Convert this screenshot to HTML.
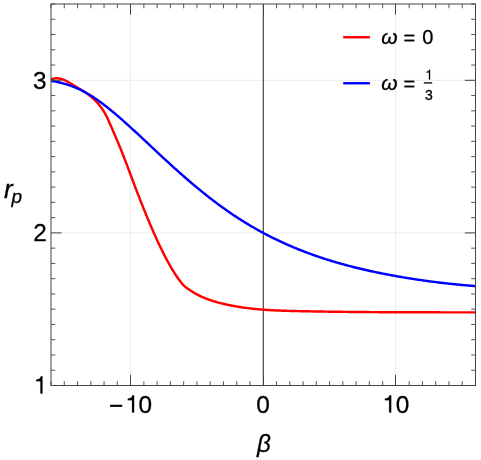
<!DOCTYPE html>
<html><head><meta charset="utf-8"><title>plot</title>
<style>
html,body{margin:0;padding:0;background:#fff;}
body{width:481px;height:460px;overflow:hidden;font-family:"Liberation Sans",sans-serif;}
svg{display:block;will-change:transform}
text{font-family:"Liberation Sans",sans-serif;fill:#000;stroke:#000;stroke-width:0.3px}
</style></head><body>
<svg width="481" height="460" viewBox="0 0 481 460">
<rect width="481" height="460" fill="#fff"/>
<g stroke="#ebebeb" stroke-width="1" fill="none">
<line x1="130.50" x2="130.50" y1="4.0" y2="385.5"/>
<line x1="395.50" x2="395.50" y1="4.0" y2="385.5"/>
<line y1="232.90" y2="232.90" x1="51.0" x2="475.5"/>
<line y1="80.30" y2="80.30" x1="51.0" x2="475.5"/>
</g>
<line x1="263.35" x2="263.35" y1="4.0" y2="385.5" stroke="#505050" stroke-width="1.25"/>
<path d="M51.00,79.60 L51.44,79.40 L51.88,79.21 L52.33,79.04 L52.77,78.89 L53.21,78.76 L53.65,78.64 L54.10,78.54 L54.54,78.45 L54.98,78.39 L55.42,78.34 L55.87,78.30 L56.31,78.28 L56.75,78.27 L57.19,78.28 L57.63,78.30 L58.08,78.33 L58.52,78.38 L58.96,78.44 L59.40,78.51 L59.85,78.60 L60.29,78.69 L60.73,78.80 L61.17,78.92 L61.62,79.05 L62.06,79.19 L62.50,79.34 L62.94,79.50 L63.38,79.66 L63.83,79.84 L64.27,80.02 L64.71,80.22 L65.15,80.42 L65.60,80.63 L66.04,80.84 L66.48,81.06 L66.92,81.29 L67.37,81.52 L67.81,81.76 L68.25,82.01 L68.69,82.25 L69.13,82.51 L69.58,82.76 L70.02,83.02 L70.46,83.29 L70.90,83.56 L71.35,83.83 L71.79,84.10 L72.23,84.37 L72.67,84.65 L73.12,84.92 L73.56,85.20 L74.00,85.48 L74.44,85.75 L74.88,86.03 L75.33,86.31 L75.77,86.58 L76.21,86.86 L76.65,87.13 L77.10,87.40 L77.54,87.67 L77.98,87.94 L78.42,88.21 L78.87,88.48 L79.31,88.75 L79.75,89.02 L80.19,89.28 L80.63,89.55 L81.08,89.83 L81.52,90.10 L81.96,90.37 L82.40,90.65 L82.85,90.92 L83.29,91.20 L83.73,91.49 L84.17,91.77 L84.62,92.06 L85.06,92.35 L85.50,92.64 L85.94,92.94 L86.38,93.24 L86.83,93.55 L87.27,93.86 L87.71,94.17 L88.15,94.49 L88.60,94.82 L89.04,95.15 L89.48,95.48 L89.92,95.82 L90.37,96.17 L90.81,96.53 L91.25,96.89 L91.69,97.25 L92.13,97.63 L92.58,98.01 L93.02,98.40 L93.46,98.80 L93.90,99.20 L94.35,99.62 L94.79,100.04 L95.23,100.47 L95.67,100.92 L96.12,101.37 L96.56,101.84 L97.00,102.31 L97.44,102.80 L97.88,103.30 L98.33,103.82 L98.77,104.35 L99.21,104.89 L99.65,105.45 L100.10,106.02 L100.54,106.61 L100.98,107.22 L101.42,107.84 L101.87,108.48 L102.31,109.13 L102.75,109.81 L103.19,110.50 L103.63,111.21 L104.08,111.94 L104.52,112.69 L104.96,113.47 L105.40,114.26 L105.85,115.07 L106.29,115.91 L106.73,116.77 L107.17,117.65 L107.62,118.55 L108.06,119.48 L108.50,120.43 L108.94,121.40 L109.38,122.38 L109.83,123.38 L110.27,124.39 L110.71,125.42 L111.15,126.45 L111.60,127.49 L112.04,128.54 L112.48,129.58 L112.92,130.64 L113.37,131.68 L113.81,132.73 L114.25,133.77 L114.69,134.81 L115.13,135.85 L115.58,136.88 L116.02,137.90 L116.46,138.93 L116.90,139.96 L117.35,140.99 L117.79,142.03 L118.23,143.07 L118.67,144.12 L119.12,145.18 L119.56,146.25 L120.00,147.32 L120.44,148.41 L120.88,149.50 L121.33,150.60 L121.77,151.70 L122.21,152.82 L122.65,153.93 L123.10,155.06 L123.54,156.19 L123.98,157.33 L124.42,158.47 L124.87,159.62 L125.31,160.77 L125.75,161.92 L126.19,163.08 L126.63,164.24 L127.08,165.41 L127.52,166.58 L127.96,167.75 L128.40,168.92 L128.85,170.10 L129.29,171.27 L129.73,172.45 L130.17,173.63 L130.62,174.81 L131.06,175.99 L131.50,177.17 L131.94,178.35 L132.38,179.52 L132.83,180.70 L133.27,181.88 L133.71,183.05 L134.15,184.22 L134.60,185.39 L135.04,186.56 L135.48,187.72 L135.92,188.88 L136.37,190.04 L136.81,191.19 L137.25,192.34 L137.69,193.49 L138.13,194.64 L138.58,195.78 L139.02,196.92 L139.46,198.06 L139.90,199.19 L140.35,200.32 L140.79,201.44 L141.23,202.56 L141.67,203.68 L142.12,204.80 L142.56,205.91 L143.00,207.02 L143.44,208.12 L143.88,209.22 L144.33,210.32 L144.77,211.41 L145.21,212.50 L145.65,213.59 L146.10,214.67 L146.54,215.74 L146.98,216.82 L147.42,217.88 L147.87,218.95 L148.31,220.01 L148.75,221.06 L149.19,222.12 L149.63,223.16 L150.08,224.21 L150.52,225.24 L150.96,226.28 L151.40,227.31 L151.85,228.33 L152.29,229.35 L152.73,230.36 L153.17,231.37 L153.62,232.38 L154.06,233.38 L154.50,234.37 L154.94,235.36 L155.38,236.35 L155.83,237.33 L156.27,238.30 L156.71,239.27 L157.15,240.23 L157.60,241.19 L158.04,242.14 L158.48,243.09 L158.92,244.03 L159.37,244.97 L159.81,245.90 L160.25,246.82 L160.69,247.74 L161.13,248.65 L161.58,249.56 L162.02,250.45 L162.46,251.35 L162.90,252.23 L163.35,253.12 L163.79,253.99 L164.23,254.86 L164.67,255.72 L165.12,256.57 L165.56,257.42 L166.00,258.26 L166.44,259.10 L166.88,259.92 L167.33,260.74 L167.77,261.56 L168.21,262.36 L168.65,263.16 L169.10,263.95 L169.54,264.74 L169.98,265.52 L170.42,266.29 L170.87,267.05 L171.31,267.80 L171.75,268.55 L172.19,269.29 L172.63,270.02 L173.08,270.75 L173.52,271.46 L173.96,272.17 L174.40,272.87 L174.85,273.56 L175.29,274.25 L175.73,274.92 L176.17,275.59 L176.62,276.25 L177.06,276.90 L177.50,277.55 L177.94,278.18 L178.38,278.81 L178.83,279.42 L179.27,280.03 L179.71,280.63 L180.15,281.22 L180.60,281.80 L181.04,282.37 L181.48,282.94 L181.92,283.49 L182.37,284.04 L182.81,284.57 L183.25,285.10 L184.23,285.91 L185.20,286.70 L186.18,287.46 L187.16,288.20 L188.14,288.91 L189.11,289.61 L190.09,290.28 L191.07,290.93 L192.05,291.55 L193.02,292.16 L194.00,292.75 L194.98,293.32 L195.96,293.87 L196.93,294.41 L197.91,294.92 L198.89,295.42 L199.87,295.90 L200.84,296.36 L201.82,296.81 L202.80,297.25 L203.78,297.67 L204.75,298.07 L205.73,298.47 L206.71,298.85 L207.69,299.21 L208.66,299.57 L209.64,299.91 L210.62,300.24 L211.60,300.56 L212.57,300.88 L213.55,301.18 L214.53,301.47 L215.51,301.76 L216.48,302.04 L217.46,302.31 L218.44,302.57 L219.41,302.83 L220.39,303.08 L221.37,303.32 L222.35,303.56 L223.32,303.80 L224.30,304.03 L225.28,304.25 L226.26,304.47 L227.23,304.69 L228.21,304.90 L229.19,305.10 L230.17,305.30 L231.14,305.50 L232.12,305.69 L233.10,305.87 L234.08,306.06 L235.05,306.23 L236.03,306.41 L237.01,306.57 L237.99,306.74 L238.96,306.90 L239.94,307.05 L240.92,307.20 L241.90,307.35 L242.87,307.49 L243.85,307.63 L244.83,307.77 L245.81,307.90 L246.78,308.03 L247.76,308.15 L248.74,308.27 L249.71,308.39 L250.69,308.50 L251.67,308.61 L252.65,308.72 L253.62,308.82 L254.60,308.92 L255.58,309.02 L256.56,309.11 L257.53,309.20 L258.51,309.29 L259.49,309.37 L260.47,309.45 L261.44,309.53 L262.42,309.61 L263.40,309.68 L264.38,309.76 L265.35,309.82 L266.33,309.89 L267.31,309.95 L268.29,310.02 L269.26,310.07 L270.24,310.13 L271.22,310.19 L272.20,310.24 L273.17,310.29 L274.15,310.34 L275.13,310.39 L276.11,310.43 L277.08,310.47 L278.06,310.52 L279.04,310.56 L280.02,310.59 L280.99,310.63 L281.97,310.67 L282.95,310.70 L283.92,310.73 L284.90,310.77 L285.88,310.80 L286.86,310.83 L287.83,310.85 L288.81,310.88 L289.79,310.91 L290.77,310.93 L291.74,310.96 L292.72,310.98 L293.70,311.01 L294.68,311.03 L295.65,311.05 L296.63,311.07 L297.61,311.10 L298.59,311.12 L299.56,311.14 L300.54,311.16 L301.52,311.18 L302.50,311.20 L303.47,311.22 L304.45,311.24 L305.43,311.26 L306.41,311.28 L307.38,311.30 L308.36,311.32 L309.34,311.33 L310.32,311.35 L311.29,311.37 L312.27,311.39 L313.25,311.41 L314.22,311.42 L315.20,311.44 L316.18,311.46 L317.16,311.47 L318.13,311.49 L319.11,311.51 L320.09,311.52 L321.07,311.54 L322.04,311.55 L323.02,311.57 L324.00,311.59 L324.98,311.60 L325.95,311.62 L326.93,311.63 L327.91,311.64 L328.89,311.66 L329.86,311.67 L330.84,311.69 L331.82,311.70 L332.80,311.71 L333.77,311.73 L334.75,311.74 L335.73,311.75 L336.71,311.77 L337.68,311.78 L338.66,311.79 L339.64,311.80 L340.62,311.82 L341.59,311.83 L342.57,311.84 L343.55,311.85 L344.53,311.86 L345.50,311.87 L346.48,311.88 L347.46,311.89 L348.43,311.91 L349.41,311.92 L350.39,311.93 L351.37,311.94 L352.34,311.95 L353.32,311.96 L354.30,311.97 L355.28,311.97 L356.25,311.98 L357.23,311.99 L358.21,312.00 L359.19,312.01 L360.16,312.02 L361.14,312.03 L362.12,312.04 L363.10,312.04 L364.07,312.05 L365.05,312.06 L366.03,312.07 L367.01,312.08 L367.98,312.08 L368.96,312.09 L369.94,312.10 L370.92,312.11 L371.89,312.11 L372.87,312.12 L373.85,312.13 L374.83,312.13 L375.80,312.14 L376.78,312.14 L377.76,312.15 L378.73,312.16 L379.71,312.16 L380.69,312.17 L381.67,312.17 L382.64,312.18 L383.62,312.19 L384.60,312.19 L385.58,312.20 L386.55,312.20 L387.53,312.21 L388.51,312.21 L389.49,312.22 L390.46,312.22 L391.44,312.22 L392.42,312.23 L393.40,312.23 L394.37,312.24 L395.35,312.24 L396.33,312.25 L397.31,312.25 L398.28,312.25 L399.26,312.26 L400.24,312.26 L401.22,312.26 L402.19,312.27 L403.17,312.27 L404.15,312.27 L405.13,312.28 L406.10,312.28 L407.08,312.28 L408.06,312.29 L409.04,312.29 L410.01,312.29 L410.99,312.29 L411.97,312.30 L412.94,312.30 L413.92,312.30 L414.90,312.30 L415.88,312.31 L416.85,312.31 L417.83,312.31 L418.81,312.31 L419.79,312.32 L420.76,312.32 L421.74,312.32 L422.72,312.32 L423.70,312.32 L424.67,312.32 L425.65,312.33 L426.63,312.33 L427.61,312.33 L428.58,312.33 L429.56,312.33 L430.54,312.33 L431.52,312.34 L432.49,312.34 L433.47,312.34 L434.45,312.34 L435.43,312.34 L436.40,312.34 L437.38,312.34 L438.36,312.34 L439.34,312.34 L440.31,312.35 L441.29,312.35 L442.27,312.35 L443.24,312.35 L444.22,312.35 L445.20,312.35 L446.18,312.35 L447.15,312.35 L448.13,312.35 L449.11,312.35 L450.09,312.35 L451.06,312.35 L452.04,312.36 L453.02,312.36 L454.00,312.36 L454.97,312.36 L455.95,312.36 L456.93,312.36 L457.91,312.36 L458.88,312.36 L459.86,312.36 L460.84,312.36 L461.82,312.36 L462.79,312.36 L463.77,312.36 L464.75,312.36 L465.73,312.36 L466.70,312.36 L467.68,312.36 L468.66,312.37 L469.64,312.37 L470.61,312.37 L471.59,312.37 L472.57,312.37 L473.55,312.37 L474.52,312.37 L475.50,312.37" fill="none" stroke="#ff0000" stroke-width="2.45" stroke-linejoin="round"/>
<path d="M51.00,80.83 L52.06,81.00 L53.13,81.18 L54.19,81.37 L55.26,81.57 L56.32,81.78 L57.38,82.00 L58.45,82.23 L59.51,82.47 L60.58,82.73 L61.64,82.99 L62.70,83.27 L63.77,83.56 L64.83,83.86 L65.89,84.18 L66.96,84.50 L68.02,84.84 L69.09,85.19 L70.15,85.56 L71.21,85.94 L72.28,86.33 L73.34,86.74 L74.41,87.16 L75.47,87.59 L76.53,88.04 L77.60,88.51 L78.66,88.98 L79.73,89.48 L80.79,89.99 L81.85,90.51 L82.92,91.05 L83.98,91.61 L85.05,92.18 L86.11,92.77 L87.17,93.37 L88.24,93.99 L89.30,94.62 L90.36,95.27 L91.43,95.94 L92.49,96.61 L93.56,97.31 L94.62,98.01 L95.68,98.73 L96.75,99.46 L97.81,100.21 L98.88,100.96 L99.94,101.73 L101.00,102.51 L102.07,103.30 L103.13,104.10 L104.20,104.91 L105.26,105.73 L106.32,106.56 L107.39,107.40 L108.45,108.25 L109.52,109.11 L110.58,109.98 L111.64,110.85 L112.71,111.73 L113.77,112.62 L114.83,113.52 L115.90,114.42 L116.96,115.33 L118.03,116.24 L119.09,117.16 L120.15,118.09 L121.22,119.02 L122.28,119.95 L123.35,120.89 L124.41,121.84 L125.47,122.79 L126.54,123.74 L127.60,124.69 L128.67,125.65 L129.73,126.62 L130.79,127.58 L131.86,128.55 L132.92,129.53 L133.98,130.50 L135.05,131.48 L136.11,132.46 L137.18,133.44 L138.24,134.43 L139.30,135.42 L140.37,136.41 L141.43,137.40 L142.50,138.39 L143.56,139.38 L144.62,140.38 L145.69,141.37 L146.75,142.37 L147.82,143.37 L148.88,144.37 L149.94,145.36 L151.01,146.36 L152.07,147.36 L153.14,148.36 L154.20,149.36 L155.26,150.35 L156.33,151.35 L157.39,152.35 L158.45,153.34 L159.52,154.34 L160.58,155.33 L161.65,156.32 L162.71,157.31 L163.77,158.30 L164.84,159.28 L165.90,160.27 L166.97,161.25 L168.03,162.22 L169.09,163.20 L170.16,164.17 L171.22,165.14 L172.29,166.11 L173.35,167.07 L174.41,168.04 L175.48,168.99 L176.54,169.95 L177.61,170.90 L178.67,171.85 L179.73,172.79 L180.80,173.73 L181.86,174.67 L182.92,175.60 L183.99,176.53 L185.05,177.46 L186.12,178.38 L187.18,179.30 L188.24,180.22 L189.31,181.13 L190.37,182.04 L191.44,182.94 L192.50,183.85 L193.56,184.74 L194.63,185.63 L195.69,186.52 L196.76,187.41 L197.82,188.29 L198.88,189.16 L199.95,190.04 L201.01,190.90 L202.08,191.77 L203.14,192.62 L204.20,193.48 L205.27,194.33 L206.33,195.17 L207.39,196.01 L208.46,196.85 L209.52,197.68 L210.59,198.51 L211.65,199.33 L212.71,200.15 L213.78,200.96 L214.84,201.77 L215.91,202.57 L216.97,203.37 L218.03,204.16 L219.10,204.95 L220.16,205.73 L221.23,206.51 L222.29,207.28 L223.35,208.04 L224.42,208.81 L225.48,209.56 L226.55,210.31 L227.61,211.06 L228.67,211.80 L229.74,212.53 L230.80,213.26 L231.86,213.98 L232.93,214.70 L233.99,215.41 L235.06,216.12 L236.12,216.82 L237.18,217.51 L238.25,218.20 L239.31,218.89 L240.38,219.57 L241.44,220.24 L242.50,220.91 L243.57,221.57 L244.63,222.23 L245.70,222.88 L246.76,223.53 L247.82,224.17 L248.89,224.81 L249.95,225.44 L251.02,226.07 L252.08,226.69 L253.14,227.31 L254.21,227.92 L255.27,228.53 L256.33,229.13 L257.40,229.72 L258.46,230.32 L259.53,230.90 L260.59,231.49 L261.65,232.06 L262.72,232.64 L263.78,233.21 L264.85,233.77 L265.91,234.33 L266.97,234.88 L268.04,235.43 L269.10,235.98 L270.17,236.52 L271.23,237.05 L272.29,237.59 L273.36,238.11 L274.42,238.64 L275.48,239.15 L276.55,239.67 L277.61,240.18 L278.68,240.68 L279.74,241.18 L280.80,241.68 L281.87,242.17 L282.93,242.66 L284.00,243.15 L285.06,243.62 L286.12,244.10 L287.19,244.57 L288.25,245.04 L289.32,245.50 L290.38,245.96 L291.44,246.42 L292.51,246.87 L293.57,247.32 L294.64,247.76 L295.70,248.20 L296.76,248.64 L297.83,249.07 L298.89,249.50 L299.95,249.92 L301.02,250.34 L302.08,250.76 L303.15,251.17 L304.21,251.58 L305.27,251.99 L306.34,252.39 L307.40,252.79 L308.47,253.19 L309.53,253.58 L310.59,253.97 L311.66,254.35 L312.72,254.74 L313.79,255.11 L314.85,255.49 L315.91,255.86 L316.98,256.23 L318.04,256.59 L319.11,256.96 L320.17,257.31 L321.23,257.67 L322.30,258.02 L323.36,258.37 L324.42,258.72 L325.49,259.06 L326.55,259.40 L327.62,259.73 L328.68,260.07 L329.74,260.40 L330.81,260.72 L331.87,261.05 L332.94,261.37 L334.00,261.69 L335.06,262.00 L336.13,262.32 L337.19,262.63 L338.26,262.93 L339.32,263.24 L340.38,263.54 L341.45,263.84 L342.51,264.13 L343.58,264.43 L344.64,264.72 L345.70,265.01 L346.77,265.29 L347.83,265.58 L348.89,265.86 L349.96,266.13 L351.02,266.41 L352.09,266.68 L353.15,266.95 L354.21,267.22 L355.28,267.49 L356.34,267.75 L357.41,268.01 L358.47,268.27 L359.53,268.52 L360.60,268.78 L361.66,269.03 L362.73,269.28 L363.79,269.53 L364.85,269.77 L365.92,270.02 L366.98,270.26 L368.05,270.50 L369.11,270.73 L370.17,270.97 L371.24,271.20 L372.30,271.43 L373.36,271.66 L374.43,271.89 L375.49,272.11 L376.56,272.33 L377.62,272.56 L378.68,272.77 L379.75,272.99 L380.81,273.21 L381.88,273.42 L382.94,273.63 L384.00,273.85 L385.07,274.05 L386.13,274.26 L387.20,274.47 L388.26,274.67 L389.32,274.87 L390.39,275.07 L391.45,275.27 L392.52,275.47 L393.58,275.66 L394.64,275.86 L395.71,276.05 L396.77,276.24 L397.83,276.43 L398.90,276.61 L399.96,276.80 L401.03,276.98 L402.09,277.16 L403.15,277.34 L404.22,277.52 L405.28,277.70 L406.35,277.88 L407.41,278.05 L408.47,278.22 L409.54,278.39 L410.60,278.56 L411.67,278.73 L412.73,278.89 L413.79,279.06 L414.86,279.22 L415.92,279.38 L416.98,279.54 L418.05,279.70 L419.11,279.86 L420.18,280.01 L421.24,280.16 L422.30,280.32 L423.37,280.47 L424.43,280.61 L425.50,280.76 L426.56,280.91 L427.62,281.05 L428.69,281.19 L429.75,281.34 L430.82,281.48 L431.88,281.61 L432.94,281.75 L434.01,281.89 L435.07,282.02 L436.14,282.15 L437.20,282.28 L438.26,282.41 L439.33,282.54 L440.39,282.67 L441.45,282.79 L442.52,282.92 L443.58,283.04 L444.65,283.16 L445.71,283.28 L446.77,283.40 L447.84,283.52 L448.90,283.63 L449.97,283.75 L451.03,283.86 L452.09,283.97 L453.16,284.08 L454.22,284.19 L455.29,284.30 L456.35,284.41 L457.41,284.51 L458.48,284.61 L459.54,284.72 L460.61,284.82 L461.67,284.92 L462.73,285.02 L463.80,285.11 L464.86,285.21 L465.92,285.30 L466.99,285.40 L468.05,285.49 L469.12,285.58 L470.18,285.67 L471.24,285.76 L472.31,285.84 L473.37,285.93 L474.44,286.02 L475.50,286.10" fill="none" stroke="#0000ff" stroke-width="2.45" stroke-linejoin="round"/>
<g stroke="#555" stroke-width="1" fill="none">
<line x1="51.00" x2="51.00" y1="385.50" y2="381.20"/>
<line x1="51.00" x2="51.00" y1="4.00" y2="8.30"/>
<line x1="64.27" x2="64.27" y1="385.50" y2="381.20"/>
<line x1="64.27" x2="64.27" y1="4.00" y2="8.30"/>
<line x1="77.53" x2="77.53" y1="385.50" y2="381.20"/>
<line x1="77.53" x2="77.53" y1="4.00" y2="8.30"/>
<line x1="90.80" x2="90.80" y1="385.50" y2="381.20"/>
<line x1="90.80" x2="90.80" y1="4.00" y2="8.30"/>
<line x1="104.06" x2="104.06" y1="385.50" y2="381.20"/>
<line x1="104.06" x2="104.06" y1="4.00" y2="8.30"/>
<line x1="117.33" x2="117.33" y1="385.50" y2="381.20"/>
<line x1="117.33" x2="117.33" y1="4.00" y2="8.30"/>
<line x1="143.86" x2="143.86" y1="385.50" y2="381.20"/>
<line x1="143.86" x2="143.86" y1="4.00" y2="8.30"/>
<line x1="157.12" x2="157.12" y1="385.50" y2="381.20"/>
<line x1="157.12" x2="157.12" y1="4.00" y2="8.30"/>
<line x1="170.39" x2="170.39" y1="385.50" y2="381.20"/>
<line x1="170.39" x2="170.39" y1="4.00" y2="8.30"/>
<line x1="183.66" x2="183.66" y1="385.50" y2="381.20"/>
<line x1="183.66" x2="183.66" y1="4.00" y2="8.30"/>
<line x1="196.92" x2="196.92" y1="385.50" y2="381.20"/>
<line x1="196.92" x2="196.92" y1="4.00" y2="8.30"/>
<line x1="210.19" x2="210.19" y1="385.50" y2="381.20"/>
<line x1="210.19" x2="210.19" y1="4.00" y2="8.30"/>
<line x1="223.45" x2="223.45" y1="385.50" y2="381.20"/>
<line x1="223.45" x2="223.45" y1="4.00" y2="8.30"/>
<line x1="236.72" x2="236.72" y1="385.50" y2="381.20"/>
<line x1="236.72" x2="236.72" y1="4.00" y2="8.30"/>
<line x1="249.98" x2="249.98" y1="385.50" y2="381.20"/>
<line x1="249.98" x2="249.98" y1="4.00" y2="8.30"/>
<line x1="276.52" x2="276.52" y1="385.50" y2="381.20"/>
<line x1="276.52" x2="276.52" y1="4.00" y2="8.30"/>
<line x1="289.78" x2="289.78" y1="385.50" y2="381.20"/>
<line x1="289.78" x2="289.78" y1="4.00" y2="8.30"/>
<line x1="303.05" x2="303.05" y1="385.50" y2="381.20"/>
<line x1="303.05" x2="303.05" y1="4.00" y2="8.30"/>
<line x1="316.31" x2="316.31" y1="385.50" y2="381.20"/>
<line x1="316.31" x2="316.31" y1="4.00" y2="8.30"/>
<line x1="329.58" x2="329.58" y1="385.50" y2="381.20"/>
<line x1="329.58" x2="329.58" y1="4.00" y2="8.30"/>
<line x1="342.84" x2="342.84" y1="385.50" y2="381.20"/>
<line x1="342.84" x2="342.84" y1="4.00" y2="8.30"/>
<line x1="356.11" x2="356.11" y1="385.50" y2="381.20"/>
<line x1="356.11" x2="356.11" y1="4.00" y2="8.30"/>
<line x1="369.38" x2="369.38" y1="385.50" y2="381.20"/>
<line x1="369.38" x2="369.38" y1="4.00" y2="8.30"/>
<line x1="382.64" x2="382.64" y1="385.50" y2="381.20"/>
<line x1="382.64" x2="382.64" y1="4.00" y2="8.30"/>
<line x1="409.17" x2="409.17" y1="385.50" y2="381.20"/>
<line x1="409.17" x2="409.17" y1="4.00" y2="8.30"/>
<line x1="422.44" x2="422.44" y1="385.50" y2="381.20"/>
<line x1="422.44" x2="422.44" y1="4.00" y2="8.30"/>
<line x1="435.70" x2="435.70" y1="385.50" y2="381.20"/>
<line x1="435.70" x2="435.70" y1="4.00" y2="8.30"/>
<line x1="448.97" x2="448.97" y1="385.50" y2="381.20"/>
<line x1="448.97" x2="448.97" y1="4.00" y2="8.30"/>
<line x1="462.23" x2="462.23" y1="385.50" y2="381.20"/>
<line x1="462.23" x2="462.23" y1="4.00" y2="8.30"/>
<line x1="475.50" x2="475.50" y1="385.50" y2="381.20"/>
<line x1="475.50" x2="475.50" y1="4.00" y2="8.30"/>
<line y1="370.24" y2="370.24" x1="51.00" x2="55.30"/>
<line y1="370.24" y2="370.24" x1="475.50" x2="471.20"/>
<line y1="354.98" y2="354.98" x1="51.00" x2="55.30"/>
<line y1="354.98" y2="354.98" x1="475.50" x2="471.20"/>
<line y1="339.72" y2="339.72" x1="51.00" x2="55.30"/>
<line y1="339.72" y2="339.72" x1="475.50" x2="471.20"/>
<line y1="324.46" y2="324.46" x1="51.00" x2="55.30"/>
<line y1="324.46" y2="324.46" x1="475.50" x2="471.20"/>
<line y1="309.20" y2="309.20" x1="51.00" x2="55.30"/>
<line y1="309.20" y2="309.20" x1="475.50" x2="471.20"/>
<line y1="293.94" y2="293.94" x1="51.00" x2="55.30"/>
<line y1="293.94" y2="293.94" x1="475.50" x2="471.20"/>
<line y1="278.68" y2="278.68" x1="51.00" x2="55.30"/>
<line y1="278.68" y2="278.68" x1="475.50" x2="471.20"/>
<line y1="263.42" y2="263.42" x1="51.00" x2="55.30"/>
<line y1="263.42" y2="263.42" x1="475.50" x2="471.20"/>
<line y1="248.16" y2="248.16" x1="51.00" x2="55.30"/>
<line y1="248.16" y2="248.16" x1="475.50" x2="471.20"/>
<line y1="217.64" y2="217.64" x1="51.00" x2="55.30"/>
<line y1="217.64" y2="217.64" x1="475.50" x2="471.20"/>
<line y1="202.38" y2="202.38" x1="51.00" x2="55.30"/>
<line y1="202.38" y2="202.38" x1="475.50" x2="471.20"/>
<line y1="187.12" y2="187.12" x1="51.00" x2="55.30"/>
<line y1="187.12" y2="187.12" x1="475.50" x2="471.20"/>
<line y1="171.86" y2="171.86" x1="51.00" x2="55.30"/>
<line y1="171.86" y2="171.86" x1="475.50" x2="471.20"/>
<line y1="156.60" y2="156.60" x1="51.00" x2="55.30"/>
<line y1="156.60" y2="156.60" x1="475.50" x2="471.20"/>
<line y1="141.34" y2="141.34" x1="51.00" x2="55.30"/>
<line y1="141.34" y2="141.34" x1="475.50" x2="471.20"/>
<line y1="126.08" y2="126.08" x1="51.00" x2="55.30"/>
<line y1="126.08" y2="126.08" x1="475.50" x2="471.20"/>
<line y1="110.82" y2="110.82" x1="51.00" x2="55.30"/>
<line y1="110.82" y2="110.82" x1="475.50" x2="471.20"/>
<line y1="95.56" y2="95.56" x1="51.00" x2="55.30"/>
<line y1="95.56" y2="95.56" x1="475.50" x2="471.20"/>
<line y1="65.04" y2="65.04" x1="51.00" x2="55.30"/>
<line y1="65.04" y2="65.04" x1="475.50" x2="471.20"/>
<line y1="49.78" y2="49.78" x1="51.00" x2="55.30"/>
<line y1="49.78" y2="49.78" x1="475.50" x2="471.20"/>
<line y1="34.52" y2="34.52" x1="51.00" x2="55.30"/>
<line y1="34.52" y2="34.52" x1="475.50" x2="471.20"/>
<line y1="19.26" y2="19.26" x1="51.00" x2="55.30"/>
<line y1="19.26" y2="19.26" x1="475.50" x2="471.20"/>
<line y1="4.00" y2="4.00" x1="51.00" x2="55.30"/>
<line y1="4.00" y2="4.00" x1="475.50" x2="471.20"/>
</g>
<g stroke="#444" stroke-width="1" fill="none">
<line x1="130.50" x2="130.50" y1="385.50" y2="374.90"/>
<line x1="130.50" x2="130.50" y1="4.00" y2="14.60"/>
<line x1="263.50" x2="263.50" y1="385.50" y2="374.90"/>
<line x1="263.50" x2="263.50" y1="4.00" y2="14.60"/>
<line x1="395.50" x2="395.50" y1="385.50" y2="374.90"/>
<line x1="395.50" x2="395.50" y1="4.00" y2="14.60"/>
<line y1="385.50" y2="385.50" x1="51.00" x2="61.60"/>
<line y1="385.50" y2="385.50" x1="475.50" x2="464.90"/>
<line y1="232.90" y2="232.90" x1="51.00" x2="61.60"/>
<line y1="232.90" y2="232.90" x1="475.50" x2="464.90"/>
<line y1="80.30" y2="80.30" x1="51.00" x2="61.60"/>
<line y1="80.30" y2="80.30" x1="475.50" x2="464.90"/>
</g>
<rect x="51.0" y="4.0" width="424.5" height="381.5" fill="none" stroke="#444" stroke-width="1"/>
<g font-size="24.4px">
<text x="46.5" y="88.7" text-anchor="end">3</text>
<text x="46.8" y="240.9" text-anchor="end">2</text>
<path transform="translate(33.70,393.50) scale(0.02440,-0.02440)" d="M359,0 L275,0 L275,505 L101,505 L101,566 C215,578 262,600 296,703 L359,703 Z" fill="#000" stroke="#000" stroke-width="8.2"/>
<text x="116.2" y="414.2" text-anchor="middle">−</text>
<path transform="translate(125.34,412.50) scale(0.02440,-0.02440)" d="M359,0 L275,0 L275,505 L101,505 L101,566 C215,578 262,600 296,703 L359,703 Z" fill="#000" stroke="#000" stroke-width="8.2"/>
<text x="145.4" y="412.6" text-anchor="middle">0</text>
<text x="263.1" y="412.7" text-anchor="middle">0</text>
<path transform="translate(382.44,412.50) scale(0.02440,-0.02440)" d="M359,0 L275,0 L275,505 L101,505 L101,566 C215,578 262,600 296,703 L359,703 Z" fill="#000" stroke="#000" stroke-width="8.2"/>
<text x="402.6" y="412.6" text-anchor="middle">0</text>
</g>
<text x="3.9" y="197.6" font-size="26px" font-style="italic">r</text>
<text x="11.6" y="202.6" font-size="19px" font-style="italic">p</text>
<text x="257" y="451.5" font-size="24.2px" font-style="italic">β</text>
<line x1="343.2" x2="369.9" y1="37.25" y2="37.25" stroke="#ff0000" stroke-width="2.4"/>
<line x1="343.2" x2="369.9" y1="83.25" y2="83.25" stroke="#0000ff" stroke-width="2.4"/>
<g font-size="20px">
<text x="381.3" y="44" font-size="21px" font-style="italic">ω</text>
<text x="409.4" y="45.2" text-anchor="middle">=</text>
<text x="427.8" y="44.1" text-anchor="middle">0</text>
<text x="381.3" y="89.9" font-size="21px" font-style="italic">ω</text>
<text x="409.4" y="91.1" text-anchor="middle">=</text>
</g>
<path transform="translate(425.15,79.50) scale(0.01380,-0.01380)" d="M359,0 L275,0 L275,505 L101,505 L101,566 C215,578 262,600 296,703 L359,703 Z" fill="#000" stroke="#000" stroke-width="14.5"/>
<text x="429.0" y="100.3" font-size="14px" text-anchor="middle">3</text>
<line x1="423.8" x2="432.2" y1="82.9" y2="82.9" stroke="#000" stroke-width="1.3"/>
</svg>
</body></html>
